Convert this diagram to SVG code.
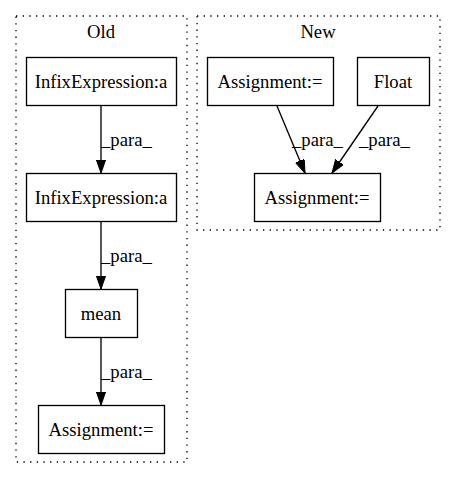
<svg xmlns="http://www.w3.org/2000/svg" width="456" height="480" viewBox="0 0 456 480">
<style>
text{font-family:"Liberation Serif","Times New Roman",serif;font-size:18.67px;fill:#000}
.c{text-anchor:middle}
.node rect{fill:#fff;stroke:#000;stroke-width:1.33}
.cluster{fill:none;stroke:#000;stroke-width:1.33;stroke-dasharray:1.33,5.33}
.edge{stroke:#000;stroke-width:1.33;fill:none}
</style>
<defs>
<marker id="ah" markerUnits="userSpaceOnUse" markerWidth="14" markerHeight="10" refX="13.3" refY="4.7" orient="auto">
<path d="M0,0 L13.3,4.7 L0,9.4 z" fill="#000" stroke="#000" stroke-width="1"/>
</marker>
</defs>
<rect width="456" height="480" fill="#fff"/>
<g id="cluster_old">
<rect class="cluster" x="16" y="16" width="171" height="446"/>
<text class="c" x="101" y="38">Old</text>
</g>
<g id="cluster_new">
<rect class="cluster" x="197" y="16" width="243" height="214"/>
<text class="c" x="318" y="38">New</text>
</g>
<g id="n1" class="node"><rect x="26.5" y="57.5" width="150" height="48"/><text class="c" x="101" y="88">InfixExpression:a</text></g>
<g id="n2" class="node"><rect x="26.5" y="173.5" width="150" height="48"/><text class="c" x="101" y="204">InfixExpression:a</text></g>
<g id="n3" class="node"><rect x="65.5" y="289.5" width="72" height="48"/><text class="c" x="101" y="320">mean</text></g>
<g id="n4" class="node"><rect x="38.5" y="405.5" width="126" height="48"/><text class="c" x="101" y="436">Assignment:=</text></g>
<g id="n5" class="node"><rect x="207.5" y="57.5" width="126" height="48"/><text class="c" x="270" y="88">Assignment:=</text></g>
<g id="n6" class="node"><rect x="357.5" y="57.5" width="72" height="48"/><text class="c" x="393" y="88">Float</text></g>
<g id="n7" class="node"><rect x="254.5" y="173.5" width="126" height="48"/><text class="c" x="317" y="204">Assignment:=</text></g>
<g id="edges">
<line class="edge" x1="101" y1="106" x2="101" y2="173" marker-end="url(#ah)"/>
<text x="101" y="146">_para_</text>
<line class="edge" x1="101" y1="222" x2="101" y2="289" marker-end="url(#ah)"/>
<text x="101" y="262">_para_</text>
<line class="edge" x1="101" y1="338" x2="101" y2="405" marker-end="url(#ah)"/>
<text x="101" y="378">_para_</text>
<line class="edge" x1="277" y1="106" x2="305" y2="173" marker-end="url(#ah)"/>
<text x="292" y="146">_para_</text>
<line class="edge" x1="378" y1="106" x2="332" y2="173" marker-end="url(#ah)"/>
<text x="359" y="146">_para_</text>
</g>
</svg>
